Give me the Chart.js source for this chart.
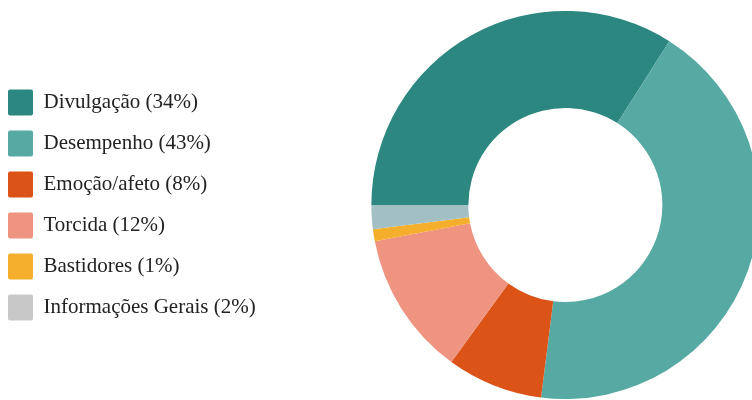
<!DOCTYPE html>
<html>
<head>
<meta charset="utf-8">
<script src="https://cdn.jsdelivr.net/npm/chart.js@4/dist/chart.umd.min.js"></script>
<style>
  html, body { margin: 0; padding: 0; width: 752px; height: 400px; overflow: hidden; background: #fff; }
  #wrap { position: absolute; left: -7px; top: 0; width: 872px; height: 400px; }
</style>
</head>
<body>
<div id="wrap"><canvas id="myChart"></canvas></div>
<script>
const labels = ['Divulgação', 'Desempenho', 'Emoção/afeto', 'Torcida', 'Bastidores', 'Informações Gerais'];
const values = [34, 43, 8, 12, 1, 2];
const sliceColors = ['#2C8780', '#56AAA3', '#DC5318', '#EE9480', '#F5AF2C', '#A2C0C4'];
const legendColors = ['#2C8780', '#56AAA3', '#DC5318', '#EE9480', '#F5AF2C', '#C8C8C8'];

Chart.defaults.font.family = "'Liberation Serif', 'Times New Roman', serif";

var ctx = document.getElementById('myChart').getContext('2d');

var myChart = new Chart(ctx, {
  type: 'doughnut',
  data: {
    labels: labels,
    datasets: [{
      data: values,
      backgroundColor: sliceColors,
      borderWidth: 0
    }]
  },
  options: {
    responsive: true,
    maintainAspectRatio: false,
    animation: false,
    rotation: -90, // first slice starts at 9 o'clock
    cutout: '50%',
    layout: { padding: { left: 0, right: 0, top: 11, bottom: 1 } },
    plugins: {
      legend: {
        position: 'left',
        align: 'center',
        labels: {
          boxWidth: 25,
          boxHeight: 26,
          padding: 15,
          color: '#222',
          useBorderRadius: true,
          borderRadius: 2,
          font: { family: "'Liberation Serif', 'Times New Roman', serif", size: 21 },
          generateLabels: function(chart) {
            return labels.map(function(label, i) {
              return {
                text: label + ' (' + values[i] + '%)',
                fillStyle: legendColors[i],
                strokeStyle: legendColors[i],
                lineWidth: 0,
                borderRadius: 2,
                fontColor: '#222',
                hidden: false,
                index: i
              };
            });
          }
        }
      },
      tooltip: { enabled: false }
    }
  }
});
</script>
</body>
</html>
